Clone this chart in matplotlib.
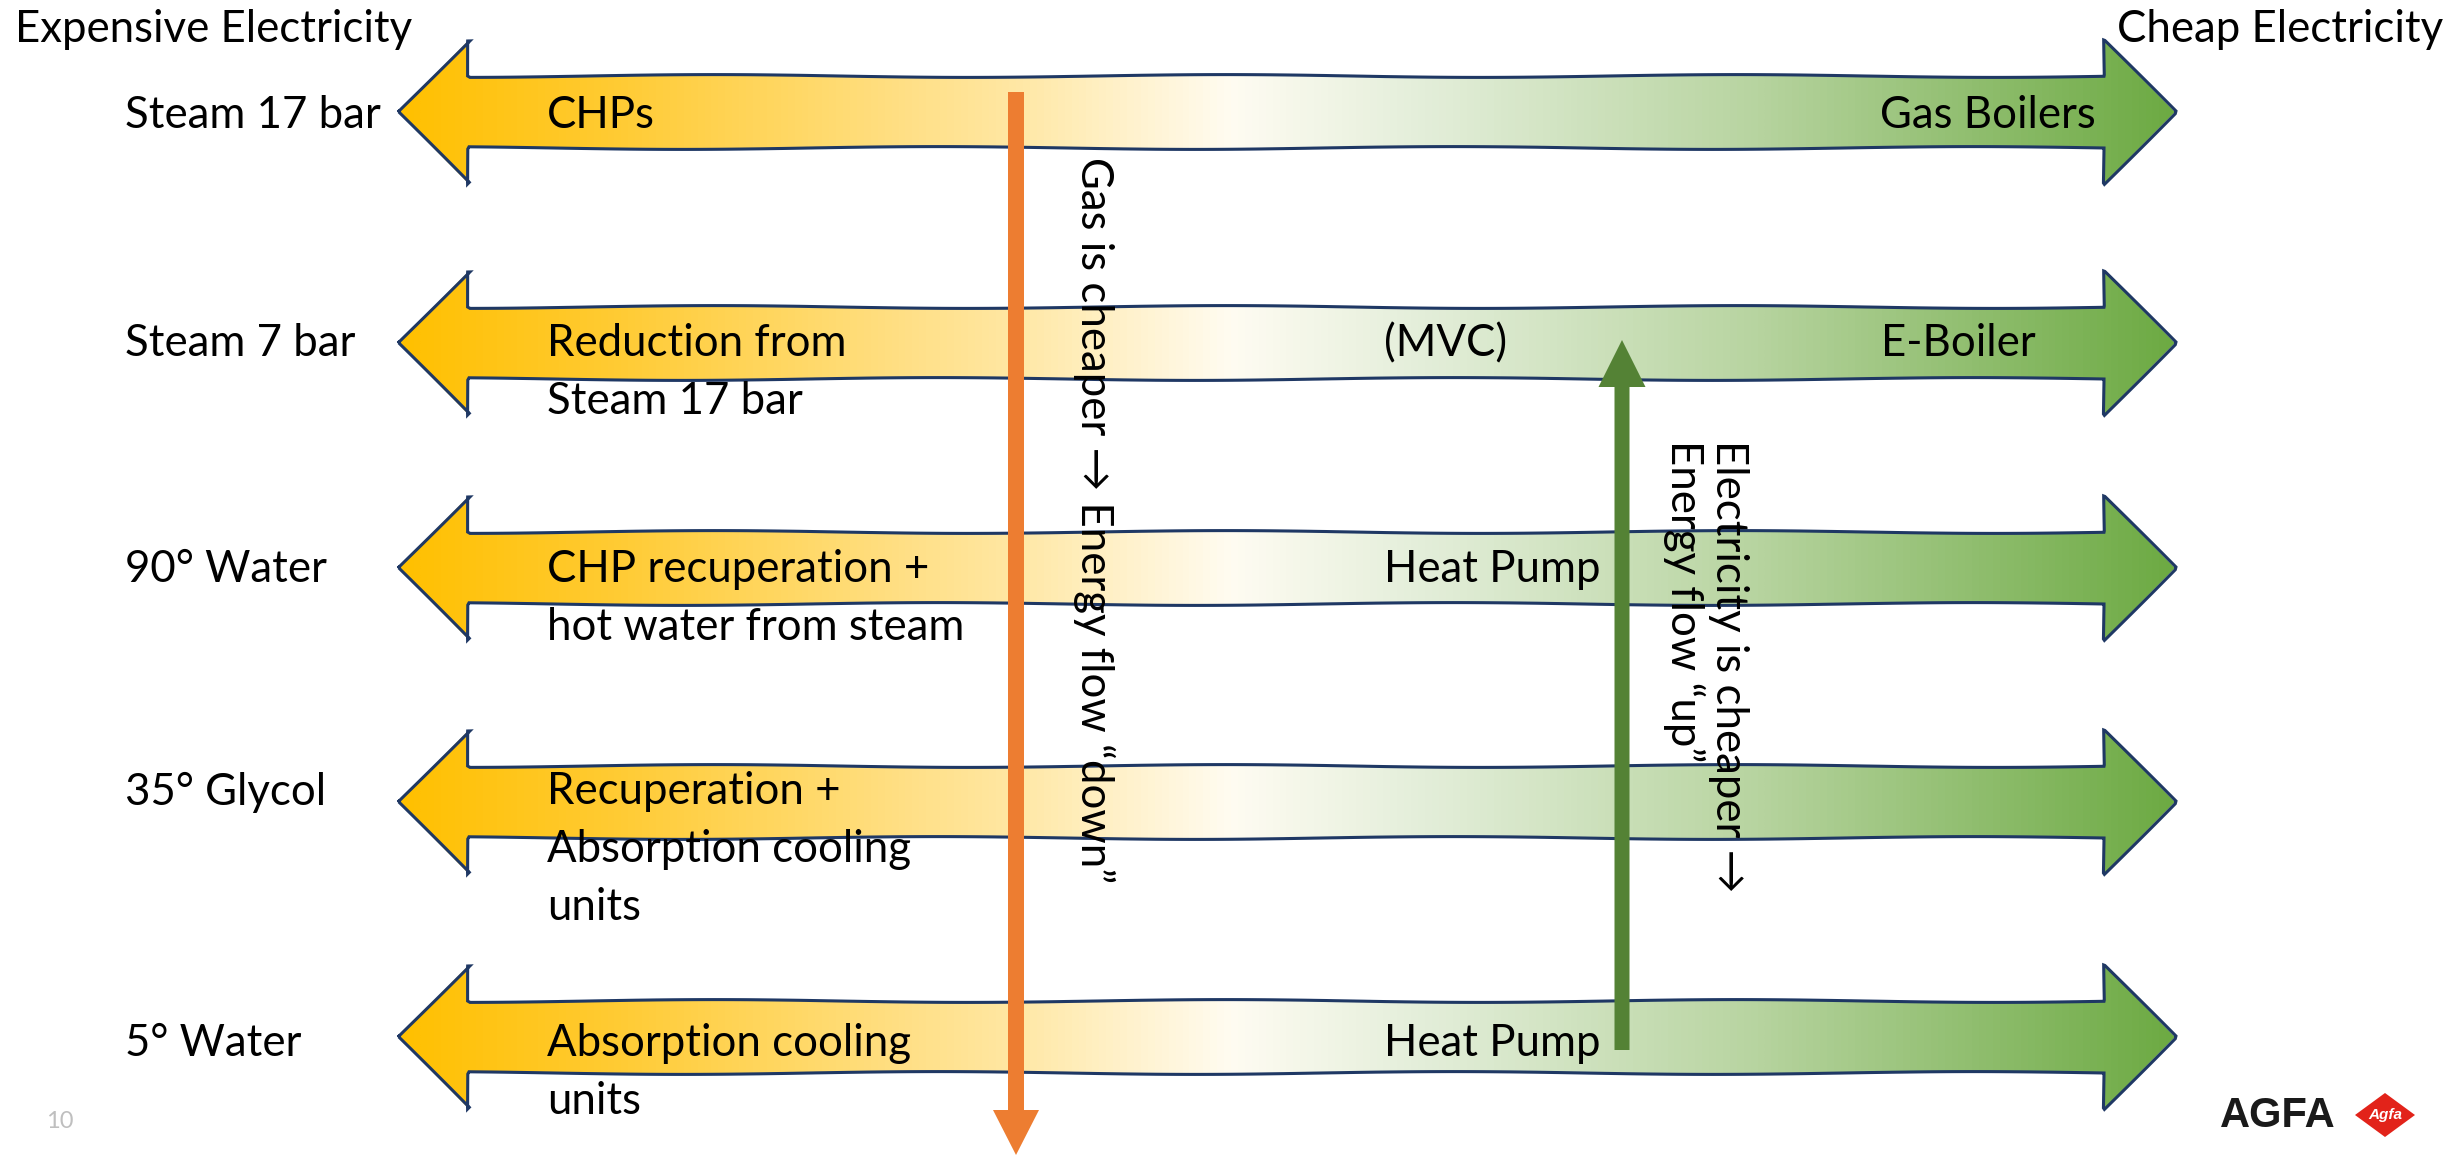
import numpy as np
import matplotlib
matplotlib.use("Agg")
import matplotlib.pyplot as plt
from matplotlib.patches import Polygon, FancyArrow
from matplotlib.colors import LinearSegmentedColormap

plt.rcParams['font.family'] = ['Lato', 'DejaVu Sans']

# rows of the diagram (top = hottest)
levels = ["Steam 17 bar", "Steam 7 bar", "90° Water", "35° Glycol", "5° Water"]
gas_side = [
    ["CHPs"],
    ["Reduction from", "Steam 17 bar"],
    ["CHP recuperation +", "hot water from steam"],
    ["Recuperation +", "Absorption cooling", "units"],
    ["Absorption cooling", "units"],
]
elec_side = ["Gas Boilers", "E-Boiler", "Heat Pump", "", "Heat Pump"]
middle = ["", "(MVC)", "", "", ""]
left_title = "Expensive Electricity"
right_title = "Cheap Electricity"
gas_note = "Gas is cheaper \u2192 Energy flow \u201cdown\u201d"
elec_note = "Electricity is cheaper \u2192\nEnergy flow \u201cup\u201d"

# layout (pixels)
W, H = 2464, 1155
arrow_y = [112, 343, 568, 802, 1037]
label_y = [116, 344, 569, 792, 1043]
xl, xr = 398, 2175
head_len, head_half, shaft_half = 71, 72, 36
line_gap = 58
FS = 31.5

fig = plt.figure(figsize=(W / 100, H / 100), dpi=100)
ax = fig.add_axes([0, 0, 1, 1])
ax.set_xlim(0, W)
ax.set_ylim(H, 0)
ax.axis('off')

grad = LinearSegmentedColormap.from_list("gas_elec", [
    (0.00, "#FFC000"), (0.12, "#FFCB33"), (0.35, "#FFE8A6"),
    (0.47, "#FFFCF2"), (0.58, "#E3EED9"), (0.76, "#B9D5A2"),
    (1.00, "#6DAA43")])
ramp = np.linspace(0, 1, 512).reshape(1, -1)

for i, y in enumerate(arrow_y):
    pts = [(xl, y), (xl + head_len, y - head_half), (xl + head_len, y - shaft_half),
           (xr - head_len, y - shaft_half), (xr - head_len, y - head_half), (xr, y),
           (xr - head_len, y + head_half), (xr - head_len, y + shaft_half),
           (xl + head_len, y + shaft_half), (xl + head_len, y + head_half)]
    clip = Polygon(pts, closed=True, facecolor='none', edgecolor='none')
    ax.add_patch(clip)
    im = ax.imshow(ramp, cmap=grad, aspect='auto', interpolation='bilinear',
                   extent=[xl, xr, y + head_half, y - head_half], zorder=1)
    im.set_clip_path(clip)
    outline = Polygon(pts, closed=True, facecolor='none', edgecolor='#1F3864',
                      linewidth=2.2, zorder=2)
    outline.set_sketch_params(scale=1.4, length=520, randomness=1.3)
    ax.add_patch(outline)

    ax.text(125, label_y[i], levels[i], fontsize=FS, va='center', ha='left', zorder=5)
    for k, line in enumerate(gas_side[i]):
        ax.text(547, label_y[i] + k * line_gap, line, fontsize=FS, va='center',
                ha='left', zorder=5)
    if elec_side[i] == "Gas Boilers":
        ax.text(2096, label_y[i], elec_side[i], fontsize=FS, va='center', ha='right', zorder=5)
    elif elec_side[i] == "E-Boiler":
        ax.text(1881, label_y[i], elec_side[i], fontsize=FS, va='center', ha='left', zorder=5)
    elif elec_side[i]:
        ax.text(1384, label_y[i], elec_side[i], fontsize=FS, va='center', ha='left', zorder=5)
    if middle[i]:
        ax.text(1446, label_y[i], middle[i], fontsize=FS, va='center', ha='center', zorder=5)

# vertical flow arrows
ax.add_patch(FancyArrow(1016, 92, 0, 1155 - 92, width=16, head_width=46, head_length=45,
                        length_includes_head=True, color='#ED7D31', linewidth=0, zorder=4))
ax.add_patch(FancyArrow(1622, 1050, 0, 340 - 1050, width=15, head_width=47, head_length=47,
                        length_includes_head=True, color='#548235', linewidth=0, zorder=4))

ax.text(1094, 157, gas_note, fontsize=FS, rotation=-90, ha='center', va='top', zorder=5)
ax.text(1706, 440, elec_note, fontsize=FS, rotation=-90, ha='center', va='top',
        multialignment='left', linespacing=1.1, zorder=5)

# titles
ax.text(15, 30, left_title, fontsize=FS, ha='left', va='center')
ax.text(2443, 30, right_title, fontsize=FS, ha='right', va='center')

# footer
ax.text(46, 1122, "10", fontsize=17, color='#BFBFBF', ha='left', va='center')
ax.text(2220, 1116, "AGFA", fontsize=30, fontweight='heavy', family='Liberation Sans',
        color='#1A1A1A', ha='left', va='center')
ax.add_patch(Polygon([(2355, 1115), (2385, 1093), (2415, 1115), (2385, 1137)],
                     closed=True, facecolor='#E2231A', edgecolor='none'))
ax.text(2385, 1115, "Agfa", fontsize=11, fontstyle='italic', fontweight='bold',
        color='white', ha='center', va='center', family='Liberation Sans')

fig.savefig("out.png", dpi=100)
